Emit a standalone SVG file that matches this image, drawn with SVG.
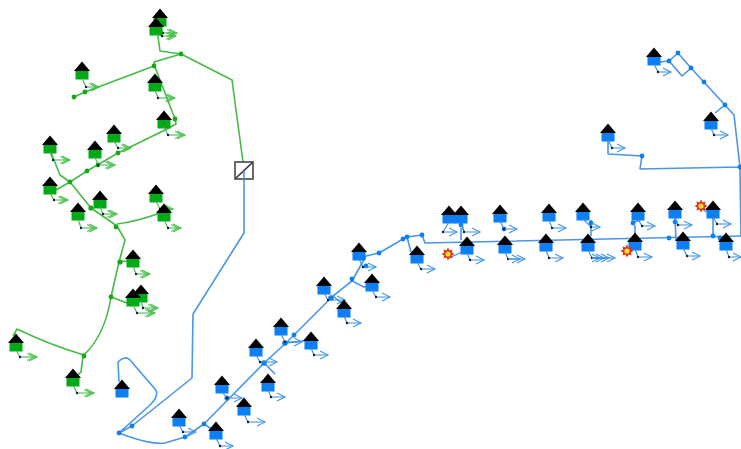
<svg xmlns="http://www.w3.org/2000/svg" width="741" height="449" viewBox="0 0 741 449">
<style>
.gl{fill:none;stroke:#45bb45;stroke-width:1.6;stroke-linejoin:round}
.bl{fill:none;stroke:#4a96e6;stroke-width:1.6;stroke-linejoin:round}
.gd{fill:#12a812}
.bd{fill:#0a7ff0}
.gs{fill:none;stroke:#45b055;stroke-width:1.1;marker-end:url(#ga);marker-mid:url(#dot)}
.bs{fill:none;stroke:#3c8ce0;stroke-width:1.1;marker-end:url(#ba);marker-mid:url(#dot)}
</style>
<defs>
<filter id="soft" filterUnits="userSpaceOnUse" x="0" y="0" width="741" height="449"><feGaussianBlur stdDeviation="0.35"/></filter>
<marker id="dot" markerUnits="userSpaceOnUse" markerWidth="4" markerHeight="4" refX="2" refY="2"><circle cx="2" cy="2" r="1.2" fill="#123"/></marker>
<marker id="ga" markerUnits="userSpaceOnUse" markerWidth="12" markerHeight="12" refX="10" refY="6" orient="auto"><path d="M2 2L10 6L2 10M-1 2L7 6L-1 10" fill="none" stroke="#45c045" stroke-width="1.1"/></marker>
<marker id="ba" markerUnits="userSpaceOnUse" markerWidth="12" markerHeight="12" refX="10" refY="6" orient="auto"><path d="M2 2L10 6L2 10" fill="none" stroke="#3f97ea" stroke-width="1.1"/></marker>
<g id="gh"><rect x="-6.5" y="7" width="13" height="10.5" fill="#00aa12"/><path d="M-8 9L0 -0.5L8 9Z" fill="#000"/></g>
<g id="bh"><rect x="-6.5" y="7" width="13" height="10.5" fill="#0a7ff5"/><path d="M-8 9L0 -0.5L8 9Z" fill="#000"/></g>
<g id="burst"><path d="M0-6.5L1.6-3.6L4.5-4.5L3.8-1.5L6.5 0L3.8 1.5L4.5 4.5L1.6 3.6L0 6.5L-1.6 3.6L-4.5 4.5L-3.8 1.5L-6.5 0L-3.8-1.5L-4.5-4.5L-1.6-3.6Z" fill="#e0301a"/><circle r="2.6" fill="#ffd92a"/></g>
</defs>
<g filter="url(#soft)">
<g id="connectors">
<path class="gl" d="M243 162L232 80L181 54L160 51L157 30M181 54L154 62L155 67L175 119L176 124L165 130L118 153L87 171L70 182L56 190M154 66L85 92L74 97M50 150L60 175L70 182L91 208L117 226L125 240L119 262L111 297Q105 335 84 355Q50 345 17 329L13 336M83 356L81 372L73 380M117 224Q135 222 160 213M119 262L133 260M111 297L127 303"/>
<path class="bl" d="M244 180L244 233L193 314L192 378L132 426L119 433Q150 445 165 443L185 437L204 424L264 363L286 343L333 296L352 281L366 256L379 253L403 239L407 237L422 235L425 243L741 236M119 433L150 405Q160 395 155 389L130 360Q125 355 118 362L119 382"/>
<path class="bl" d="M741 236L740 167L734 115L725 105L691 68L678 53L669 61L682 76L691 68M669 61L660 62M725 105L715 113M740 167L640 169L642 156L608 154L608 135"/>
<path class="bl" d="M204 424L216 432M264 363L275 374M286 343L311 340M333 296L344 305M352 281L364 287L372 285M407 237L411 252M464 232L461 222M447 222H462M461 228L461 240M591 227L591 236M591 220L591 227M635 225L635 236M635 222L642 219M675 217L676 240M713 217L713 236"/>
<g class="gd"><circle cx="181" cy="54" r="2.4"/><circle cx="154" cy="66" r="2.4"/><circle cx="85" cy="92" r="2.4"/><circle cx="74" cy="97" r="2.4"/><circle cx="175" cy="119" r="2.4"/><circle cx="118" cy="153" r="2.4"/><circle cx="98" cy="165" r="2.4"/><circle cx="87" cy="171" r="2.4"/><circle cx="70" cy="182" r="2.4"/><circle cx="91" cy="208" r="2.6"/><circle cx="116" cy="227" r="2.4"/><circle cx="120" cy="262" r="2.6"/><circle cx="111" cy="297" r="2.4"/><circle cx="84" cy="356" r="2.4"/></g>
<g class="bd"><circle cx="119" cy="433" r="2.4"/><circle cx="132" cy="426" r="2.4"/><circle cx="185" cy="437" r="2.4"/><circle cx="204" cy="424" r="2.4"/><circle cx="227" cy="398" r="2.6"/><circle cx="264" cy="363" r="2.8"/><circle cx="285" cy="343" r="2.8"/><circle cx="294" cy="335" r="2.4"/><circle cx="331" cy="298" r="2.8"/><circle cx="352" cy="279" r="2.4"/><circle cx="366" cy="266" r="2.4"/><circle cx="379" cy="253" r="2.4"/><circle cx="403" cy="239" r="2.4"/><circle cx="407" cy="237" r="2.4"/><circle cx="422" cy="235" r="2.4"/><circle cx="461" cy="225" r="2.4"/><circle cx="504" cy="229" r="2.4"/><circle cx="591" cy="223" r="2.4"/><circle cx="633" cy="223" r="2.4"/><circle cx="675" cy="222" r="2.4"/><circle cx="669" cy="238" r="2.4"/><circle cx="713" cy="236" r="2.4"/><circle cx="720" cy="238" r="2.4"/><circle cx="669" cy="61" r="2.4"/><circle cx="678" cy="53" r="2.4"/><circle cx="691" cy="68" r="2.4"/><circle cx="704" cy="82" r="2.4"/><circle cx="725" cy="105" r="2.4"/><circle cx="740" cy="167" r="2.4"/><circle cx="642" cy="156" r="2.4"/></g>
</g>
<g id="switch"><rect x="235" y="162" width="18" height="17" fill="#fff" stroke="#444" stroke-width="1.6"/><path d="M236 178L252 163" stroke="#333" stroke-width="1.6"/><path d="M244 171V179" stroke="#4a96e6" stroke-width="1.6"/></g>
<g id="g1"><use href="#gh" x="160" y="9"/><path class="gs" d="M160 25L163 33H177"/></g>
<g id="g2"><use href="#gh" x="156" y="18"/><path class="gs" d="M156 34L162 36H176"/></g>
<g id="g3"><use href="#gh" x="82" y="62"/><path class="gs" d="M82 78L86 87H99"/></g>
<g id="g4"><use href="#gh" x="155" y="74"/><path class="gs" d="M155 90L158 98H175"/></g>
<g id="g5"><use href="#gh" x="164" y="111"/><path class="gs" d="M164 127L168 135H185"/></g>
<g id="g6"><use href="#gh" x="114" y="125"/><path class="gs" d="M114 141L118 148H131"/></g>
<g id="g7"><use href="#gh" x="95" y="141"/><path class="gs" d="M95 157L98 165H115"/></g>
<g id="g8"><use href="#gh" x="50" y="136"/><path class="gs" d="M50 152L53 160H70"/></g>
<g id="g9"><use href="#gh" x="50" y="177"/><path class="gs" d="M50 193L54 200H68"/></g>
<g id="g10"><use href="#gh" x="100" y="191"/><path class="gs" d="M100 207L103 214H117"/></g>
<g id="g11"><use href="#gh" x="78" y="203"/><path class="gs" d="M78 219L81 228H97"/></g>
<g id="g12"><use href="#gh" x="156" y="185"/><path class="gs" d="M156 201L160 209H173"/></g>
<g id="g13"><use href="#gh" x="164" y="204"/><path class="gs" d="M164 220L168 228H181"/></g>
<g id="g14"><use href="#gh" x="133" y="250"/><path class="gs" d="M133 266L136 274H150"/></g>
<g id="g15"><use href="#gh" x="141" y="285"/><path class="gs" d="M141 301L143 308H158"/></g>
<g id="g16"><use href="#gh" x="133" y="289"/><path class="gs" d="M133 305L137 313H155"/></g>
<g id="g17"><use href="#gh" x="16" y="334"/><path class="gs" d="M16 350L20 357H37"/></g>
<g id="g18"><use href="#gh" x="73" y="369"/><path class="gs" d="M73 385L77 393H94"/></g>
<g id="b1"><use href="#bh" x="122" y="380"/></g>
<g id="b2"><use href="#bh" x="179" y="409"/><path class="bs" d="M179 425L183 432H196"/></g>
<g id="b3"><use href="#bh" x="216" y="422"/><path class="bs" d="M216 438L220 446H233"/></g>
<g id="b4"><use href="#bh" x="222" y="376"/><path class="bs" d="M222 392L227 398H242"/></g>
<g id="b5"><use href="#bh" x="244" y="398"/><path class="bs" d="M244 414L248 422H265"/></g>
<g id="b6"><use href="#bh" x="256" y="339"/><path class="bs" d="M256 355L260 362H277"/></g>
<g id="b7"><use href="#bh" x="268" y="374"/><path class="bs" d="M268 390L271 397H285"/></g>
<g id="b8"><use href="#bh" x="281" y="318"/><path class="bs" d="M281 334L285 342H302"/></g>
<g id="b9"><use href="#bh" x="311" y="332"/><path class="bs" d="M311 348L314 355H328"/></g>
<g id="b10"><use href="#bh" x="324" y="277"/><path class="bs" d="M324 293L328 300H345"/></g>
<g id="b11"><use href="#bh" x="344" y="300"/><path class="bs" d="M344 316L347 323H361"/></g>
<g id="b12"><use href="#bh" x="359" y="243"/><path class="bs" d="M359 259L363 267H376"/></g>
<g id="b13"><use href="#bh" x="372" y="274"/><path class="bs" d="M372 290L376 297H390"/></g>
<g id="b14"><use href="#bh" x="417" y="246"/><path class="bs" d="M417 262L421 269H435"/></g>
<g id="b15"><use href="#bh" x="449" y="206"/><path class="bs" d="M449 222L443 232H457"/></g>
<g id="b16"><use href="#bh" x="461" y="206"/><path class="bs" d="M461 222L464 232H480"/></g>
<g id="b17"><use href="#bh" x="467" y="237"/><path class="bs" d="M467 253L470 260H484"/><path class="bs" d="M449 258L462 252" style="marker-end:none"/></g>
<g id="b18"><use href="#bh" x="500" y="205"/><path class="bs" d="M500 221L504 229H517"/></g>
<g id="b19"><use href="#bh" x="505" y="236"/><path class="bs" d="M505 252L508 259H525"/><path class="bs" d="M508 259H520"/></g>
<g id="b20"><use href="#bh" x="549" y="204"/><path class="bs" d="M549 220L552 228H566"/></g>
<g id="b21"><use href="#bh" x="546" y="234"/><path class="bs" d="M546 250L549 258H563"/></g>
<g id="b22"><use href="#bh" x="583" y="203"/><path class="bs" d="M583 219L591 227H600"/></g>
<g id="b23"><use href="#bh" x="588" y="234"/><path class="bs" d="M588 250L592 258H600"/><path class="bs" d="M592 258H604"/><path class="bs" d="M592 258H609"/><path class="bs" d="M592 258H615"/></g>
<g id="b24"><use href="#bh" x="638" y="203"/><path class="bs" d="M638 219L642 226H655"/></g>
<g id="b25"><use href="#bh" x="635" y="233"/><path class="bs" d="M635 249L638 257H652"/></g>
<g id="b26"><use href="#bh" x="675" y="201"/><path class="bs" d="M675 217L678 225H692"/></g>
<g id="b27"><use href="#bh" x="683" y="232"/><path class="bs" d="M683 248L687 256H700"/></g>
<g id="b28"><use href="#bh" x="713" y="201"/><path class="bs" d="M713 217L717 224H731"/><path class="bs" d="M702 209L708 213" style="marker-end:none"/></g>
<g id="b29"><use href="#bh" x="726" y="233"/><path class="bs" d="M726 249L729 257H741"/></g>
<g id="b30"><use href="#bh" x="654" y="48"/><path class="bs" d="M654 64L658 72H671"/></g>
<g id="b31"><use href="#bh" x="711" y="112"/><path class="bs" d="M711 128L714 135H728"/></g>
<g id="b32"><use href="#bh" x="608" y="124"/><path class="bs" d="M608 140L612 148H625"/></g>
<g id="fault1"><use href="#burst" x="448" y="254"/></g>
<g id="fault2"><use href="#burst" x="627" y="251"/></g>
<g id="fault3"><use href="#burst" x="701" y="206"/></g>
</g>
</svg>
